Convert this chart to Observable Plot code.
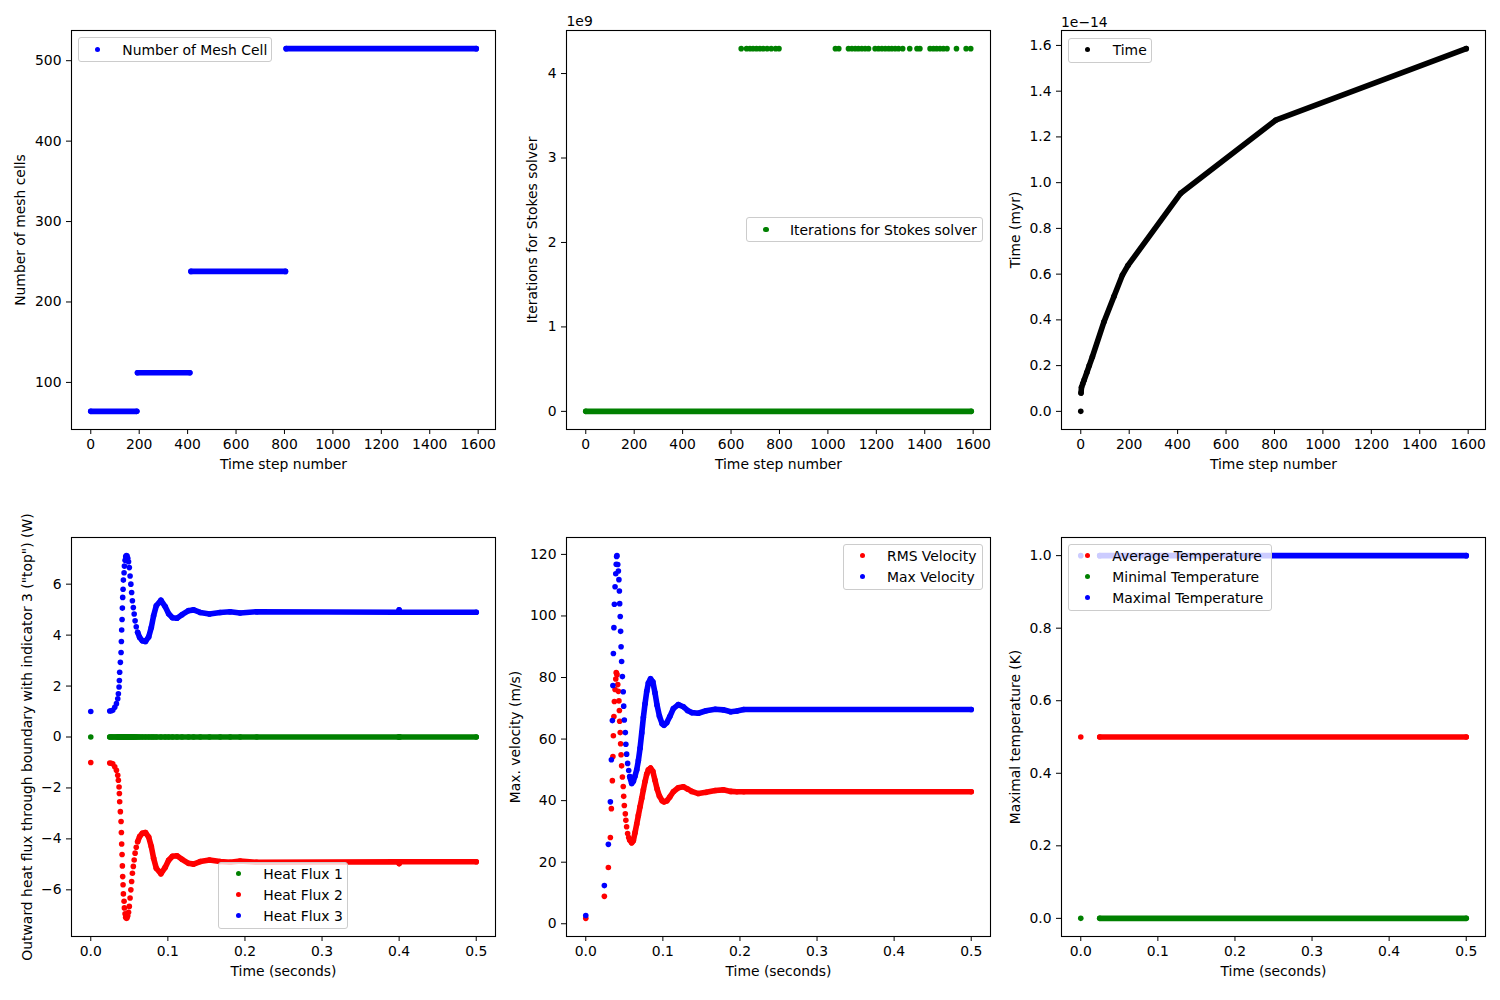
<!DOCTYPE html>
<html>
<head>
<meta charset="utf-8">
<script src="https://cdn.jsdelivr.net/npm/d3@7"></script>
<script src="https://cdn.jsdelivr.net/npm/@observablehq/plot@0.6"></script>
<style>
  body { margin: 0; background: white; font-family: "DejaVu Sans", sans-serif; }
  #fig { position: relative; width: 1500px; height: 1000px; overflow: hidden; background: white; }
  .panel { position: absolute; }
  .legend { position: absolute; border: 1px solid #cccccc; border-radius: 3px; background: rgba(255,255,255,0.8); box-sizing: border-box; }
  .lg-dot { position: absolute; width: 5.6px; height: 5.6px; border-radius: 50%; }
  .lg-text { position: absolute; font-size: 13.9px; line-height: 16px; white-space: nowrap; color: #000; }
  .offset { position: absolute; font-size: 13.9px; line-height: 16px; white-space: nowrap; color: #000; }
</style>
</head>
<body>
<div id="fig"></div>
<script>
// ---------------- DATA ----------------
// Panel 1: number of mesh cells vs time step (dense runs of dots: run ends)
const meshStepNumbers = [0, 190, 193, 409, 414, 804, 807, 1592];
const meshCellCounts  = [64, 64, 112, 112, 238, 238, 515, 515];

// Panel 2: iterations for Stokes solver
const stokesBaseSteps = [0, 1592];
const stokesBaseIterations = [0, 0];
const stokesOverflowSteps = [642, 664, 678, 691, 705, 719, 733, 749, 766, 784, 798,
  1031, 1045, 1085, 1099, 1113, 1126, 1140, 1154, 1168,
  1195, 1209, 1223, 1237, 1251, 1264, 1278, 1292, 1309, 1338, 1368, 1380,
  1422, 1436, 1449, 1463, 1477, 1492, 1531, 1571, 1590];
const stokesOverflowIterations = [4294967295, 4294967295, 4294967295, 4294967295, 4294967295, 4294967295, 4294967295, 4294967295, 4294967295, 4294967295, 4294967295,
  4294967295, 4294967295, 4294967295, 4294967295, 4294967295, 4294967295, 4294967295, 4294967295, 4294967295,
  4294967295, 4294967295, 4294967295, 4294967295, 4294967295, 4294967295, 4294967295, 4294967295, 4294967295, 4294967295, 4294967295, 4294967295,
  4294967295, 4294967295, 4294967295, 4294967295, 4294967295, 4294967295, 4294967295, 4294967295, 4294967295];

// Panel 3: model time (myr) vs time step
const timeStepNumbers = [0, 1, 3, 8, 14, 25, 35, 48, 96, 137, 172, 195, 413, 805, 1592];
const modelTimeMyr = [0, 0.08e-14, 0.105e-14, 0.12e-14, 0.137e-14, 0.17e-14, 0.2e-14, 0.239e-14,
  0.392e-14, 0.502e-14, 0.596e-14, 0.638e-14, 0.954e-14, 1.273e-14, 1.586e-14];

// Panel 4: heat fluxes vs time (s)
const heatFluxTimes = [0, 0.0246, 0.0265, 0.0285, 0.0311, 0.0333, 0.0350, 0.0358, 0.0367, 0.0371,
  0.0375, 0.0384, 0.0393, 0.0397, 0.0401, 0.0406, 0.0410, 0.0414, 0.0419, 0.0423,
  0.0432, 0.0436, 0.0445, 0.0453, 0.0462, 0.0471, 0.0480, 0.0490, 0.0500, 0.0510,
  0.0520, 0.0530, 0.0540, 0.0552, 0.0563, 0.0575, 0.0590,
  0.0608, 0.0634, 0.0669, 0.0710, 0.0751, 0.0785, 0.0815, 0.0850, 0.0910, 0.0965,
  0.1010, 0.1060, 0.1118, 0.1183, 0.1268, 0.1333, 0.1420, 0.1540, 0.1678, 0.1808,
  0.1937, 0.2153, 0.3990, 0.4000, 0.4010, 0.5000];
const heatFlux1 = [0, 0, 0, 0, 0, 0, 0, 0, 0, 0,
  0, 0, 0, 0, 0, 0, 0, 0, 0, 0,
  0, 0, 0, 0, 0, 0, 0, 0, 0, 0,
  0, 0, 0, 0, 0, 0, 0,
  0, 0, 0, 0, 0, 0, 0, 0, 0, 0,
  0, 0, 0, 0, 0, 0, 0, 0, 0, 0,
  0, 0, 0, 0, 0, 0];
const heatFlux2 = [-1.0, -1.02, -1.03, -1.05, -1.17, -1.31, -1.50, -1.70, -1.96, -2.22,
  -2.54, -2.93, -3.32, -3.75, -4.20, -4.61, -5.06, -5.48, -5.80, -6.16,
  -6.45, -6.71, -6.94, -7.08, -7.12, -7.10, -7.02, -6.88, -6.65, -6.32,
  -6.00, -5.67, -5.35, -5.08, -4.83, -4.56, -4.33,
  -4.11, -3.91, -3.78, -3.75, -3.93, -4.30, -4.76, -5.15, -5.37, -5.12,
  -4.84, -4.68, -4.66, -4.80, -4.96, -4.99, -4.89, -4.83, -4.89, -4.92,
  -4.87, -4.92, -4.90, -4.97, -4.90, -4.90];
const heatFlux3 = [1.0, 1.02, 1.03, 1.05, 1.17, 1.31, 1.50, 1.70, 1.96, 2.22,
  2.54, 2.93, 3.32, 3.75, 4.20, 4.61, 5.06, 5.48, 5.80, 6.16,
  6.45, 6.71, 6.94, 7.08, 7.12, 7.10, 7.02, 6.88, 6.65, 6.32,
  6.00, 5.67, 5.35, 5.08, 4.83, 4.56, 4.33,
  4.11, 3.91, 3.78, 3.75, 3.93, 4.30, 4.76, 5.15, 5.37, 5.12,
  4.84, 4.68, 4.66, 4.80, 4.96, 4.99, 4.89, 4.83, 4.89, 4.92,
  4.87, 4.92, 4.90, 4.99, 4.90, 4.90];
const heatFluxTrailStart = 37;

// Panel 5: velocities vs time (s)
const velocityTimes = [0, 0.0241, 0.0293, 0.0319, 0.0332, 0.0345, 0.0352, 0.0358, 0.0365, 0.0371,
  0.0380, 0.0389, 0.0395, 0.0400, 0.0405, 0.0415, 0.0423, 0.0430, 0.0436, 0.0440,
  0.0447, 0.0452, 0.0458, 0.0465, 0.0475, 0.0486, 0.0492, 0.0500, 0.0513, 0.0520,
  0.0530, 0.0543, 0.0557, 0.0570,
  0.0596, 0.0617, 0.0639, 0.0661, 0.0682, 0.0704, 0.0726, 0.0747, 0.0769, 0.0791,
  0.0812, 0.0840, 0.0870, 0.0898, 0.0925, 0.0955, 0.0990, 0.1015, 0.1050, 0.1090,
  0.1136, 0.1200, 0.1266, 0.1320, 0.1374, 0.1460, 0.1560, 0.1680, 0.1784, 0.1880,
  0.1960, 0.2050, 0.5000];
const rmsVelocity = [1.75, 8.9, 18.3, 28.0, 37.4, 46.5, 54.3, 61.1, 67.3, 72.2,
  76.1, 79.5, 81.6, 81.3, 80.9, 77.7, 75.5, 72.4, 69.3, 65.8,
  62.1, 58.5, 54.9, 51.3, 47.7, 44.6, 41.4, 38.4, 35.7, 33.6,
  31.5, 29.3, 28.0, 27.2,
  26.3, 27.0, 29.6, 32.4, 35.2, 38.0, 40.8, 43.5, 46.2, 48.6,
  50.0, 50.6, 49.5, 46.6, 43.8, 41.5, 40.0, 39.6, 39.9, 41.2,
  42.9, 44.2, 44.5, 43.8, 43.0, 42.3, 42.7, 43.3, 43.5, 43.0,
  42.9, 42.9, 42.9];
const maxVelocity = [2.7, 12.4, 25.8, 39.6, 53.3, 66.0, 77.4, 87.8, 96.2, 103.8,
  109.5, 113.7, 116.8, 119.3, 119.6, 116.7, 114.6, 111.8, 108.1, 104.0,
  99.8, 95.0, 90.0, 85.2, 80.3, 75.4, 70.7, 66.2, 62.1, 58.3,
  55.1, 52.1, 49.8, 47.8,
  45.6, 46.3, 48.0, 50.0, 53.0, 57.0, 62.0, 67.0, 71.5, 75.5,
  78.2, 79.6, 78.6, 75.0, 71.0, 67.5, 65.0, 64.5, 65.3, 67.3,
  69.9, 71.2, 70.5, 69.3, 68.6, 68.4, 69.2, 69.7, 69.5, 68.9,
  69.1, 69.6, 69.6];
const velocityTrailStart = 33;

// Panel 6: temperatures vs time (s)
const temperatureTimes = [0, 0.0246, 0.5];
const averageTemperature = [0.5, 0.5, 0.5];
const minimalTemperature = [0, 0, 0];
const maximalTemperature = [1, 1, 1];

// Tick values
const stepTicks = [0, 200, 400, 600, 800, 1000, 1200, 1400, 1600];
const secondTicks = [0, 0.1, 0.2, 0.3, 0.4, 0.5];
const meshTicks = [100, 200, 300, 400, 500];
const iterationTicks = [0, 1e9, 2e9, 3e9, 4e9];
const timeMyrTicks = [0, 0.2e-14, 0.4e-14, 0.6e-14, 0.8e-14, 1.0e-14, 1.2e-14, 1.4e-14, 1.6e-14];
const heatFluxTicks = [-6, -4, -2, 0, 2, 4, 6];
const velocityTicks = [0, 20, 40, 60, 80, 100, 120];
const temperatureTicks = [0, 0.2, 0.4, 0.6, 0.8, 1.0];

// ---------------- DRAWING ----------------
const BLUE = "#0000ff", RED = "#ff0000", GREEN = "#008000", BLACK = "#000000";
const W = 424, H = 399, ML = 70, MT = 30, MR = 10, MB = 60, FS = 13.9, R = 2.8;
const fig = document.getElementById("fig");
const minus = (s) => s.replace("-", "\u2212");

function table(xs, ys) { return xs.map((x, i) => ({x, y: ys[i], i})); }

function makePanel(cfg) {
  const marks = [];
  for (const s of cfg.series) {
    const data = table(s.x, s.y);
    if (s.trailFrom != null) {
      marks.push(Plot.line(data.filter(d => d.i >= s.trailFrom), {
        x: "x", y: "y", z: s.z || null, stroke: s.color, strokeWidth: 2 * R,
        strokeLinecap: "round", strokeLinejoin: "round"
      }));
    }
    marks.push(Plot.dot(data, {x: "x", y: "y", r: R, fill: s.color}));
  }
  marks.push(Plot.frame({stroke: "black", strokeWidth: 1.1}));
  marks.push(Plot.axisX({ticks: cfg.xTicks, tickFormat: cfg.xFormat, tickSize: 5, tickPadding: 5, fontSize: FS, label: null}));
  marks.push(Plot.axisY({ticks: cfg.yTicks, tickFormat: cfg.yFormat, tickSize: 5, tickPadding: 5, fontSize: FS, label: null}));
  marks.push(Plot.text([cfg.xLabel], {frameAnchor: "bottom", dy: 35, fontSize: FS, textAnchor: "middle", lineAnchor: "middle"}));
  marks.push(Plot.text([cfg.yLabel], {frameAnchor: "left", dx: -cfg.yLabelOffset, rotate: -90, fontSize: FS, textAnchor: "middle", lineAnchor: "middle"}));
  const chart = Plot.plot({
    width: ML + W + MR, height: MT + H + MB,
    marginLeft: ML, marginTop: MT, marginRight: MR, marginBottom: MB,
    style: "font-family: 'DejaVu Sans', sans-serif; font-size: 13.9px; background: transparent; overflow: visible; color: black;",
    x: {domain: cfg.xDomain},
    y: {domain: cfg.yDomain},
    marks
  });
  chart.classList.add("panel");
  chart.style.left = (cfg.left - ML) + "px";
  chart.style.top = (cfg.top - MT) + "px";
  fig.appendChild(chart);
}

const stepDomain = [-79.6, 1671.6];
const secDomain = [-0.025, 0.525];
const fmtInt = d => minus(String(d));
const fmt1 = d => minus(d.toFixed(1));

makePanel({
  left: 71, top: 30, xDomain: stepDomain, yDomain: [41.45, 537.55],
  xTicks: stepTicks, yTicks: meshTicks, xFormat: fmtInt, yFormat: fmtInt,
  xLabel: "Time step number", yLabel: "Number of mesh cells", yLabelOffset: 51,
  series: [{x: meshStepNumbers, y: meshCellCounts, color: BLUE, trailFrom: 0, z: "y"}]
});
makePanel({
  left: 566, top: 30, xDomain: stepDomain, yDomain: [-0.21475e9, 4.5097e9],
  xTicks: stepTicks, yTicks: iterationTicks, xFormat: fmtInt, yFormat: d => String(Math.round(d / 1e9)),
  xLabel: "Time step number", yLabel: "Iterations for Stokes solver", yLabelOffset: 34,
  series: [
    {x: stokesBaseSteps, y: stokesBaseIterations, color: GREEN, trailFrom: 0},
    {x: stokesOverflowSteps, y: stokesOverflowIterations, color: GREEN}
  ]
});
makePanel({
  left: 1061, top: 30, xDomain: stepDomain, yDomain: [-0.0793e-14, 1.6653e-14],
  xTicks: stepTicks, yTicks: timeMyrTicks, xFormat: fmtInt, yFormat: d => (d * 1e14).toFixed(1),
  xLabel: "Time step number", yLabel: "Time (myr)", yLabelOffset: 46,
  series: [{x: timeStepNumbers, y: modelTimeMyr, color: BLACK, trailFrom: 1}]
});
makePanel({
  left: 71, top: 537, xDomain: secDomain, yDomain: [-7.832, 7.832],
  xTicks: secondTicks, yTicks: heatFluxTicks, xFormat: fmt1, yFormat: fmtInt,
  xLabel: "Time (seconds)", yLabel: 'Outward heat flux through boundary with indicator 3 ("top") (W)', yLabelOffset: 44,
  series: [
    {x: heatFluxTimes, y: heatFlux1, color: GREEN, trailFrom: 1},
    {x: heatFluxTimes, y: heatFlux2, color: RED, trailFrom: heatFluxTrailStart},
    {x: heatFluxTimes, y: heatFlux3, color: BLUE, trailFrom: heatFluxTrailStart}
  ]
});
makePanel({
  left: 566, top: 537, xDomain: secDomain, yDomain: [-4.14, 125.49],
  xTicks: secondTicks, yTicks: velocityTicks, xFormat: fmt1, yFormat: fmtInt,
  xLabel: "Time (seconds)", yLabel: "Max. velocity (m/s)", yLabelOffset: 51,
  series: [
    {x: velocityTimes, y: rmsVelocity, color: RED, trailFrom: velocityTrailStart},
    {x: velocityTimes, y: maxVelocity, color: BLUE, trailFrom: velocityTrailStart}
  ]
});
makePanel({
  left: 1061, top: 537, xDomain: secDomain, yDomain: [-0.05, 1.05],
  xTicks: secondTicks, yTicks: temperatureTicks, xFormat: fmt1, yFormat: fmt1,
  xLabel: "Time (seconds)", yLabel: "Maximal temperature (K)", yLabelOffset: 46,
  series: [
    {x: temperatureTimes, y: averageTemperature, color: RED, trailFrom: 1},
    {x: temperatureTimes, y: minimalTemperature, color: GREEN, trailFrom: 1},
    {x: temperatureTimes, y: maximalTemperature, color: BLUE, trailFrom: 1}
  ]
});

// ---------------- LEGENDS & OFFSET TEXT ----------------
function legend(box, dotX, textX, entries) {
  const b = document.createElement("div");
  b.className = "legend";
  Object.assign(b.style, {left: box[0] + "px", top: box[1] + "px", width: box[2] + "px", height: box[3] + "px"});
  fig.appendChild(b);
  for (const [label, color, cy] of entries) {
    const d = document.createElement("div");
    d.className = "lg-dot";
    Object.assign(d.style, {left: (dotX - R) + "px", top: (cy - R) + "px", background: color});
    fig.appendChild(d);
    const t = document.createElement("div");
    t.className = "lg-text";
    t.textContent = label;
    Object.assign(t.style, {left: textX + "px", top: (cy - 7.8) + "px"});
    fig.appendChild(t);
  }
}
legend([78, 37, 194, 25], 97.3, 122.3, [["Number of Mesh Cell", BLUE, 49.5]]);
legend([746, 217, 237, 25], 766, 790, [["Iterations for Stokes solver", GREEN, 229.5]]);
legend([1068, 37.5, 84, 25], 1087.3, 1112.7, [["Time", BLACK, 49.5]]);
legend([218, 862, 130, 67], 238.3, 263.3, [["Heat Flux 1", GREEN, 873.3], ["Heat Flux 2", RED, 894.3], ["Heat Flux 3", BLUE, 915.3]]);
legend([843, 544, 140, 46], 862.7, 887, [["RMS Velocity", RED, 555.3], ["Max Velocity", BLUE, 576.3]]);
legend([1068, 544, 204, 67], 1087.3, 1112.3, [["Average Temperature", RED, 555.3], ["Minimal Temperature", GREEN, 576.3], ["Maximal Temperature", BLUE, 597.3]]);

function offsetText(label, x, baseline) {
  const t = document.createElement("div");
  t.className = "offset";
  t.textContent = label;
  Object.assign(t.style, {left: x + "px", top: (baseline - 12.8) + "px"});
  fig.appendChild(t);
}
offsetText("1e9", 566.5, 26);
offsetText("1e\u221214", 1061, 26.5);
</script>
</body>
</html>
